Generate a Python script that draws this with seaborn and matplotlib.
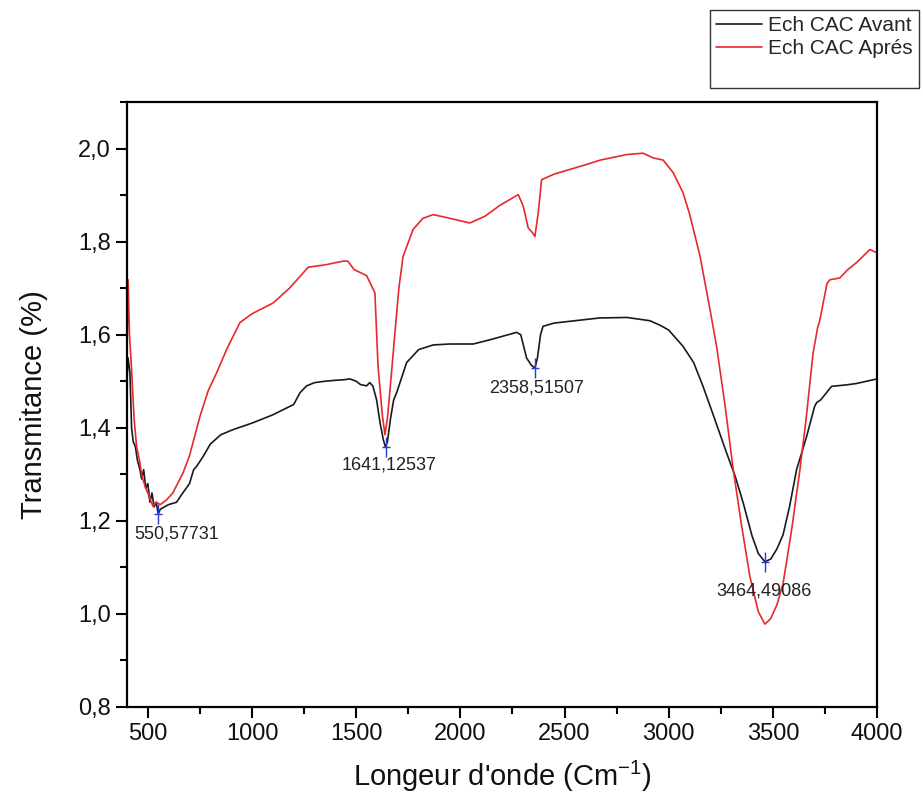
import numpy as np
import pandas as pd
import matplotlib
matplotlib.use("Agg")
import matplotlib.pyplot as plt
import seaborn as sns
from matplotlib.ticker import MultipleLocator, FuncFormatter
from matplotlib.lines import Line2D

# ---------------- data ----------------
avant_x = [400, 405, 414, 422, 430, 440, 450, 462, 470, 480, 490, 500, 510, 520, 530,
           540, 550, 560, 580, 600, 638, 660, 700, 720, 734, 765, 800, 850, 909, 1000,
           1101, 1200, 1230, 1262, 1300, 1350, 1400, 1437, 1470, 1500, 1520, 1550, 1565,
           1580, 1598, 1615, 1630, 1641, 1650, 1665, 1680, 1694, 1720, 1742, 1800, 1870,
           1950, 2062, 2150, 2270, 2290, 2318, 2340, 2358, 2370, 2385, 2397, 2450, 2550,
           2670, 2800, 2910, 2960, 3000, 3069, 3120, 3165, 3220, 3278, 3320, 3360, 3400,
           3430, 3462, 3490, 3520, 3549, 3580, 3614, 3662, 3700, 3710, 3730, 3782, 3850,
           3900, 3950, 4000]
avant_y = [1.50, 1.55, 1.52, 1.40, 1.37, 1.36, 1.33, 1.31, 1.29, 1.31, 1.27, 1.28, 1.24,
           1.26, 1.23, 1.24, 1.215, 1.225, 1.23, 1.235, 1.24, 1.255, 1.28, 1.31, 1.317,
           1.338, 1.365, 1.385, 1.396, 1.41, 1.428, 1.45, 1.475, 1.49, 1.497, 1.50, 1.502,
           1.503, 1.505, 1.50, 1.493, 1.49, 1.497, 1.49, 1.46, 1.41, 1.375, 1.358, 1.37,
           1.42, 1.46, 1.475, 1.51, 1.54, 1.568, 1.578, 1.58, 1.58, 1.59, 1.605, 1.60, 1.55,
           1.535, 1.528, 1.55, 1.60, 1.618, 1.625, 1.63, 1.636, 1.637, 1.63, 1.62, 1.61,
           1.575, 1.54, 1.489, 1.42, 1.346, 1.295, 1.235, 1.168, 1.13, 1.112, 1.118, 1.14,
           1.17, 1.23, 1.31, 1.381, 1.445, 1.454, 1.46, 1.489, 1.492, 1.495, 1.50, 1.505]

apres_x = [400, 405, 412, 422, 434, 446, 460, 470, 477, 490, 500, 512, 525, 540, 560, 590,
           620, 669, 700, 750, 790, 830, 880, 942, 1000, 1101, 1180, 1210, 1240, 1270, 1350,
           1437, 1460, 1490, 1550, 1575, 1590, 1605, 1625, 1638, 1650, 1670, 1686, 1705,
           1725, 1773, 1820, 1870, 1950, 2046, 2120, 2190, 2278, 2302, 2326, 2345, 2358,
           2374, 2390, 2450, 2510, 2600, 2670, 2798, 2877, 2926, 2974, 3022, 3069, 3100,
           3150, 3200, 3230, 3270, 3310, 3350, 3390, 3430, 3462, 3490, 3520, 3549, 3590,
           3630, 3660, 3693, 3715, 3726, 3760, 3774, 3822, 3860, 3902, 3966, 4000]
apres_y = [1.55, 1.718, 1.60, 1.525, 1.42, 1.36, 1.33, 1.30, 1.288, 1.27, 1.26, 1.245,
           1.231, 1.24, 1.235, 1.245, 1.26, 1.303, 1.34, 1.424, 1.48, 1.518, 1.57, 1.626,
           1.645, 1.668, 1.70, 1.715, 1.73, 1.745, 1.75, 1.758, 1.758, 1.74, 1.727, 1.704,
           1.69, 1.532, 1.43, 1.385, 1.42, 1.52, 1.604, 1.70, 1.768, 1.826, 1.85, 1.858,
           1.85, 1.84, 1.855, 1.878, 1.901, 1.876, 1.829, 1.82, 1.811, 1.862, 1.933, 1.945,
           1.953, 1.965, 1.975, 1.987, 1.99, 1.98, 1.975, 1.948, 1.905, 1.86, 1.77, 1.65,
           1.575, 1.45, 1.31, 1.19, 1.08, 1.005, 0.978, 0.99, 1.02, 1.065, 1.18, 1.31, 1.42,
           1.56, 1.615, 1.632, 1.71, 1.718, 1.722, 1.74, 1.755, 1.783, 1.776]

series_names = ["Ech CAC Avant", "Ech CAC Aprés"]
series_colors = ["#1a1a1a", "#e8282b"]

peak_x = [550.57731, 1641.12537, 2358.51507, 3464.49086]
peak_labels = ["550,57731", "1641,12537", "2358,51507", "3464,49086"]

x_ticks = [500, 1000, 1500, 2000, 2500, 3000, 3500, 4000]
y_ticks = [0.8, 1.0, 1.2, 1.4, 1.6, 1.8, 2.0]

# ---------------- figure ----------------
sns.set_theme(style="ticks")
plt.rcParams["font.family"] = ["Liberation Sans", "DejaVu Sans"]
plt.rcParams["mathtext.default"] = "regular"

df = pd.concat([
    pd.DataFrame({"wn": avant_x, "T": avant_y, "serie": series_names[0]}),
    pd.DataFrame({"wn": apres_x, "T": apres_y, "serie": series_names[1]}),
], ignore_index=True)

fig = plt.figure(figsize=(9.23, 8.07), dpi=100)
ax = fig.add_axes([127 / 923, 1 - 707 / 807, (877 - 127) / 923, (707 - 102) / 807])

sns.lineplot(data=df, x="wn", y="T", hue="serie", palette=dict(zip(series_names, series_colors)),
             estimator=None, sort=False, legend=False, linewidth=1.2, ax=ax)

# peak markers on the "Avant" curve
peak_y = np.interp(peak_x, avant_x, avant_y)
ax.plot(peak_x, peak_y, linestyle="none", marker="|", markersize=14, mew=1.0, color="#2a3bd0")
ax.plot(peak_x, peak_y, linestyle="none", marker="_", markersize=6, mew=1.0, color="#2a3bd0")
offsets = [(18, -20), (3, -18), (2, -20), (-1, -29)]
for px, py, lab, off in zip(peak_x, peak_y, peak_labels, offsets):
    ax.annotate(lab, (px, py), xytext=off, textcoords="offset pixels",
                ha="center", va="center", fontsize=13, color="#222222")

ax.set_xlim(400, 4000)
ax.set_ylim(0.8, 2.1)
ax.set_xticks(x_ticks)
ax.set_yticks(y_ticks)
ax.xaxis.set_minor_locator(MultipleLocator(250))
ax.yaxis.set_minor_locator(MultipleLocator(0.1))
ax.yaxis.set_major_formatter(FuncFormatter(lambda v, p: f"{v:.1f}".replace(".", ",")))

ax.tick_params(axis="both", which="major", direction="out", length=8, width=1.5,
               labelsize=17, color="black", labelcolor="#111111")
ax.tick_params(axis="both", which="minor", direction="out", length=5, width=1.5, color="black")
for s in ax.spines.values():
    s.set_visible(True)
    s.set_linewidth(1.6)
    s.set_color("black")

ax.set_xlabel("Longeur d'onde (Cm$^{-1}$)", fontsize=21, labelpad=10, color="#111111")
ax.set_ylabel("Transmitance (%)", fontsize=21, labelpad=22, color="#111111")

handles = [Line2D([0], [0], color=c, lw=1.2) for c in series_colors]
handles.append(Line2D([0], [0], color="none"))
leg = fig.legend(handles, series_names + [""], loc="upper right",
                 bbox_to_anchor=(919 / 923, 1 - 10 / 807), frameon=True, fancybox=False,
                 edgecolor="black", fontsize=15, handlelength=2.2, handletextpad=0.3,
                 labelspacing=0.2, borderpad=0.3, borderaxespad=0)
leg.get_frame().set_linewidth(1.0)

fig.savefig("out.png", dpi=100)
